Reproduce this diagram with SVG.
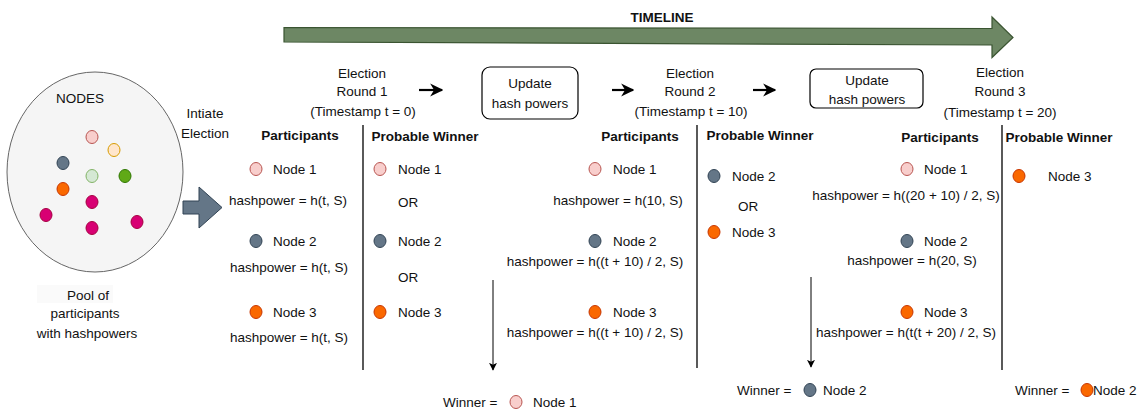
<svg xmlns="http://www.w3.org/2000/svg" width="1143" height="415" viewBox="0 0 1143 415">
  <style>
    text { font-family: "Liberation Sans", Arial, Helvetica, sans-serif; font-size: 13.5px; fill: #111; }
    .b { font-weight: bold; }
    .c { text-anchor: middle; }
    .div { stroke: #000; stroke-width: 1.3; }
    .down { stroke: #000; stroke-width: 1; fill: none; }
    .step { stroke: #000; stroke-width: 2.2; fill: none; }
    .pink { fill: #f8cecc; stroke: #b85450; }
    .yel { fill: #ffe6cc; stroke: #d79b00; }
    .gray { fill: #647687; stroke: #314354; }
    .lgr { fill: #d5e8d4; stroke: #82b366; }
    .grn { fill: #60a917; stroke: #2d7600; }
    .org { fill: #fa6800; stroke: #c73500; }
    .mag { fill: #d80073; stroke: #a50040; }
    .box { fill: #fff; stroke: #000; stroke-width: 1.2; }
  </style>
  <defs>
    <marker id="tri" viewBox="0 0 10 10" refX="9" refY="5" markerWidth="8" markerHeight="8" markerUnits="userSpaceOnUse" orient="auto">
      <path d="M0,0 L10,5 L0,10 L2.5,5 Z" fill="#000"/>
    </marker>
    <marker id="bold" viewBox="0 0 10 10" refX="9" refY="5" markerWidth="6" markerHeight="6" orient="auto">
      <path d="M0,0 L10,5 L0,10 L3,5 Z" fill="#000"/>
    </marker>
  </defs>

  <!-- timeline arrow -->
  <g id="timeline">
    <path d="M284,27.5 L992,28.5 L992,17 L1013,37.5 L992,57.5 L992,45 L284,42 Z" fill="#6d8764" stroke="#3a5431" stroke-width="1.2"/>
    <text class="b c" x="662" y="22">TIMELINE</text>
  </g>

  <!-- pool of nodes -->
  <g id="pool">
    <ellipse cx="95" cy="172" rx="88" ry="100" fill="#f5f5f5" stroke="#666" stroke-width="1"/>
    <text class="c" x="80" y="103">NODES</text>
    <ellipse class="pink" cx="92" cy="137" rx="6" ry="6.5"/>
    <ellipse class="yel" cx="114" cy="150" rx="6" ry="6.5"/>
    <ellipse class="gray" cx="63" cy="163" rx="6" ry="6.5"/>
    <ellipse class="lgr" cx="92" cy="176" rx="6" ry="6.5"/>
    <ellipse class="grn" cx="125" cy="176" rx="6" ry="6.5"/>
    <ellipse class="org" cx="63" cy="189" rx="6" ry="6.5"/>
    <ellipse class="mag" cx="92" cy="202" rx="6" ry="6.5"/>
    <ellipse class="mag" cx="46" cy="215" rx="6" ry="6.5"/>
    <ellipse class="mag" cx="92" cy="228" rx="6" ry="6.5"/>
    <ellipse class="mag" cx="137" cy="222" rx="6" ry="6.5"/>
  </g>
  <g id="pool-label">
    <rect x="37" y="285" width="76" height="18" fill="#fafafa"/>
    <text class="c" x="88" y="300">Pool of</text>
    <text class="c" x="85" y="318">participants</text>
    <text class="c" x="87" y="338">with hashpowers</text>
  </g>

  <g id="initiate">
    <text class="c" x="205" y="118">Intiate</text>
    <text class="c" x="205" y="138">Election</text>
    <path d="M183,201 L199,201 L199,187 L222,207.5 L199,228 L199,214 L183,214 Z" fill="#647687" stroke="#314354" stroke-width="1"/>
  </g>

  <!-- round headers -->
  <g id="round1-title">
    <text class="c" x="362" y="78">Election</text>
    <text class="c" x="362" y="96">Round 1</text>
    <text class="c" x="363" y="116">(Timestamp t = 0)</text>
  </g>
  <g id="update1">
    <rect class="box" x="482" y="67" width="96" height="52" rx="8"/>
    <text class="c" x="530" y="88">Update</text>
    <text class="c" x="530" y="108">hash powers</text>
  </g>
  <g id="round2-title">
    <text class="c" x="690" y="78">Election</text>
    <text class="c" x="690" y="96">Round 2</text>
    <text class="c" x="691" y="116">(Timestamp t = 10)</text>
  </g>
  <g id="update2">
    <rect class="box" x="810" y="69" width="113" height="39" rx="6"/>
    <text class="c" x="867" y="85">Update</text>
    <text class="c" x="867" y="104">hash powers</text>
  </g>
  <g id="round3-title">
    <text class="c" x="1000" y="77">Election</text>
    <text class="c" x="1000" y="96">Round 3</text>
    <text class="c" x="1000" y="117">(Timestamp t = 20)</text>
  </g>

  <!-- round 1 participants -->
  <g id="r1-participants">
    <text class="b c" x="300" y="140">Participants</text>
    <ellipse class="pink" cx="256" cy="169" rx="6" ry="6.5"/>
    <text x="273" y="174">Node 1</text>
    <text class="c" x="288" y="205">hashpower = h(t, S)</text>
    <ellipse class="gray" cx="256" cy="241" rx="6" ry="6.5"/>
    <text x="273" y="246">Node 2</text>
    <text class="c" x="289" y="272">hashpower = h(t, S)</text>
    <ellipse class="org" cx="256" cy="312" rx="6" ry="6.5"/>
    <text x="273" y="317">Node 3</text>
    <text class="c" x="289" y="342">hashpower = h(t, S)</text>
  </g>
  <g id="r1-winner">
    <text class="b c" x="425" y="141">Probable Winner</text>
    <ellipse class="pink" cx="380" cy="169" rx="6" ry="6.5"/>
    <text x="398" y="174">Node 1</text>
    <text x="398" y="207">OR</text>
    <ellipse class="gray" cx="380" cy="241" rx="6" ry="6.5"/>
    <text x="398" y="246">Node 2</text>
    <text x="398" y="282">OR</text>
    <ellipse class="org" cx="380" cy="312" rx="6" ry="6.5"/>
    <text x="398" y="317">Node 3</text>
  </g>
  <g id="r1-result">
    <text x="443" y="407">Winner =</text>
    <ellipse class="pink" cx="516" cy="402" rx="6" ry="6.5"/>
    <text x="533" y="407">Node 1</text>
  </g>

  <!-- round 2 -->
  <g id="r2-participants">
    <text class="b c" x="640" y="141">Participants</text>
    <ellipse class="pink" cx="595" cy="169" rx="6" ry="6.5"/>
    <text x="613" y="174">Node 1</text>
    <text class="c" x="618" y="205">hashpower = h(10, S)</text>
    <ellipse class="gray" cx="595" cy="241" rx="6" ry="6.5"/>
    <text x="613" y="246">Node 2</text>
    <text class="c" x="595" y="266">hashpower = h((t + 10) / 2, S)</text>
    <ellipse class="org" cx="595" cy="312" rx="6" ry="6.5"/>
    <text x="613" y="317">Node 3</text>
    <text class="c" x="595" y="337">hashpower = h((t + 10) / 2, S)</text>
  </g>
  <g id="r2-winner">
    <text class="b c" x="760" y="140">Probable Winner</text>
    <ellipse class="gray" cx="714" cy="176" rx="6" ry="6.5"/>
    <text x="732" y="181">Node 2</text>
    <text x="738" y="211">OR</text>
    <ellipse class="org" cx="714" cy="232" rx="6" ry="6.5"/>
    <text x="732" y="237">Node 3</text>
  </g>
  <g id="r2-result">
    <text x="737" y="395">Winner =</text>
    <ellipse class="gray" cx="810" cy="390" rx="6" ry="6.5"/>
    <text x="823" y="395">Node 2</text>
  </g>

  <!-- round 3 -->
  <g id="r3-participants">
    <text class="b c" x="940" y="142">Participants</text>
    <ellipse class="pink" cx="907" cy="169" rx="6" ry="6.5"/>
    <text x="924" y="174">Node 1</text>
    <text class="c" x="906" y="200">hashpower = h((20 + 10) / 2, S)</text>
    <ellipse class="gray" cx="907" cy="241" rx="6" ry="6.5"/>
    <text x="924" y="246">Node 2</text>
    <text class="c" x="912" y="265">hashpower = h(20, S)</text>
    <ellipse class="org" cx="907" cy="312" rx="6" ry="6.5"/>
    <text x="924" y="317">Node 3</text>
    <text class="c" x="906" y="337">hashpower = h(t(t + 20) / 2, S)</text>
  </g>
  <g id="r3-winner">
    <text class="b c" x="1059" y="142">Probable Winner</text>
    <ellipse class="org" cx="1019" cy="176" rx="6" ry="6.5"/>
    <text x="1048" y="181">Node 3</text>
  </g>
  <g id="r3-result">
    <text x="1015" y="395">Winner =</text>
    <ellipse class="org" cx="1087" cy="390" rx="6" ry="6.5"/>
    <text x="1093" y="395">Node 2</text>
  </g>

  <!-- connectors and dividers -->
  <g id="connectors">
    <line class="step" x1="419" y1="90" x2="442" y2="90" marker-end="url(#bold)"/>
    <line class="step" x1="612" y1="90" x2="633" y2="90" marker-end="url(#bold)"/>
    <line class="step" x1="753" y1="90" x2="775" y2="90" marker-end="url(#bold)"/>
    <line class="down" x1="493" y1="280" x2="493" y2="370" marker-end="url(#tri)"/>
    <line class="down" x1="811" y1="277" x2="811" y2="367" marker-end="url(#tri)"/>
    <line class="div" x1="363" y1="125" x2="363" y2="370"/>
    <line class="div" x1="697" y1="125" x2="697" y2="368" stroke="#555"/>
    <line class="div" x1="1002" y1="125" x2="1002" y2="370"/>
  </g>
</svg>
